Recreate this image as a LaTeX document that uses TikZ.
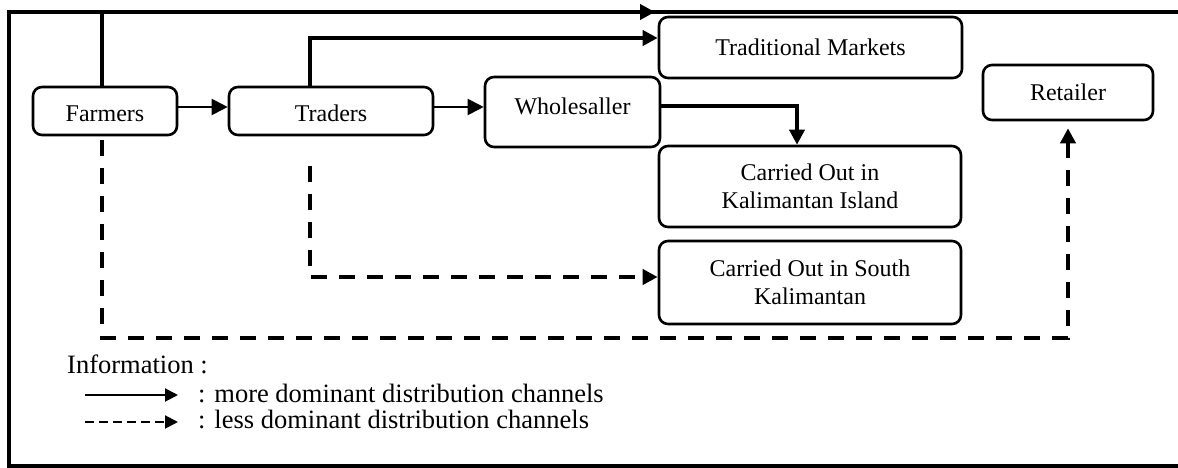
\documentclass[tikz,border=0pt]{standalone}
\usepackage{fontspec}
\setmainfont{Liberation Serif}
\usetikzlibrary{arrows.meta}
\begin{document}
\begin{tikzpicture}[x=1pt,y=-1pt,
  box/.style={draw, line width=2.6pt, rounded corners=9pt, inner sep=0pt, align=center, font=\fontsize{24}{27.5}\selectfont},
  dom/.style={line width=4pt, -{Triangle[length=15pt,width=15pt]}},
  thinarrow/.style={line width=2pt, -{Triangle[length=16pt,width=16pt]}},
  less/.style={line width=4pt, dash pattern=on 16pt off 12pt, -{Triangle[length=15pt,width=15pt]}},
  legarrow/.style={line width=2pt, -{Triangle[length=13pt,width=13pt]}},
  legtext/.style={font=\fontsize{26.5}{30}\selectfont, inner sep=0pt, anchor=base west},
  framestyle/.style={line width=4pt}
]
\useasboundingbox (0,0) rectangle (1178,468);

% frame
\coordinate (fTR) at (1178,12);
\coordinate (fTL) at (9,12);
\coordinate (fBL) at (9,466);
\coordinate (fBR) at (1178,466);
\draw[framestyle] (fTR) -- (fTL) -- (fBL) -- (fBR);

% nodes
\node[box, minimum width=144pt, minimum height=48pt, text height=22pt, text depth=0pt] (farm) at (105,111) {Farmers};
\node[box, minimum width=204pt, minimum height=48pt, text height=22pt, text depth=0pt] (trad) at (331,111) {Traders};
\node[box, minimum width=175pt, minimum height=70pt, text height=8pt, text depth=2pt] (whole) at (572.5,112) {Wholesaller};
\node[box, minimum width=303pt, minimum height=61pt] (tmk) at (810.5,47.5) {Traditional Markets};
\node[box, minimum width=170pt, minimum height=55pt] (ret) at (1068,92.5) {Retailer};
\node[box, minimum width=302pt, minimum height=81pt] (isl) at (810,186.5) {Carried Out in\\Kalimantan Island};
\node[box, minimum width=302pt, minimum height=83pt] (south) at (810,282.5) {Carried Out in South\\Kalimantan};

% solid connectors
\coordinate (topmid) at (655,12);
\draw[dom] ([xshift=-3pt]farm.north) |- (topmid);
\draw[thinarrow] ([yshift=4pt]farm.east) -- ([yshift=4pt]farm.east -| trad.west);
\draw[thinarrow] ([yshift=4pt]trad.east) -- ([yshift=4pt]trad.east -| whole.west);
\draw[dom] ([xshift=-21pt]trad.north) |- ([yshift=9.5pt]tmk.west);
\draw[dom] ([yshift=6pt]whole.east) -| ([xshift=-13pt]isl.north);

% dashed connectors
\coordinate (fb) at (102,338);
\draw[less] ([xshift=-3pt,yshift=-4pt]farm.south) -- (fb) -| ([yshift=-7pt]ret.south);
\coordinate (ts) at (310,166);
\coordinate (tb) at (310,277);
\draw[less] (ts) -- (tb) -- (tb -| south.west);

% legend
\node[legtext] (info) at (67,373) {Information :};
\coordinate (l1s) at (85,395);
\coordinate (l1e) at (178,395);
\draw[legarrow] (l1s) -- (l1e);
\node[legtext] (l1t) at (198,402) {: more dominant distribution channels};
\coordinate (l2s) at (85,422);
\coordinate (l2e) at (178,422);
\draw[legarrow, dash pattern=on 9pt off 5pt] (l2s) -- (l2e);
\node[legtext] (l2t) at (198,428) {: less dominant distribution channels};
\end{tikzpicture}
\end{document}
